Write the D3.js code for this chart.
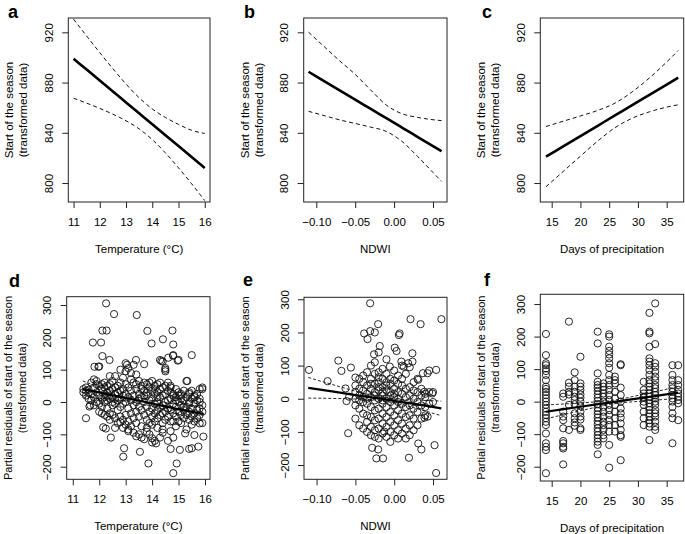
<!DOCTYPE html>
<html><head><meta charset="utf-8">
<script src="https://cdn.jsdelivr.net/npm/d3@7"></script>
<style>body{margin:0;background:#fff}text{font-family:"Liberation Sans",Arial,sans-serif;fill:#000}</style>
</head><body><svg id="c" width="685" height="534"></svg>
<script>
// ---------- DATA ----------
// top panels: fitted line + confidence bands
const aX = [11, 11.5, 12, 12.5, 13, 13.5, 14, 14.5, 15, 15.5, 16];
const aFit = [899, 890.3, 881.6, 872.9, 864.2, 855.5, 846.8, 838.1, 829.4, 820.7, 812];
const aUp = [930.5, 917, 903.8, 891, 878.8, 867.9, 859, 852.2, 846.7, 842, 839.5];
const aLo = [867.5, 863.6, 859.4, 854.8, 849.6, 843.1, 834.6, 824, 812.1, 799.4, 786];

const bX = [-0.11, -0.09, -0.07, -0.05, -0.03, -0.01, 0.01, 0.03, 0.05, 0.061];
const bFit = [888.6, 881.2, 873.8, 866.4, 859, 851.6, 844.2, 836.8, 829.4, 825.3];
const bUp = [920.1, 908.7, 897.3, 886.5, 874, 862.1, 855.2, 852.3, 850.4, 849.7];
const bLo = [857.1, 853.7, 850.3, 847.4, 844.5, 841.1, 833.2, 821.3, 808.4, 801.3];

const cX = [14, 17, 20, 23, 26, 29, 32, 35, 37];
const cFit = [821, 829.2, 837.4, 845.6, 853.8, 862.1, 870.2, 878.4, 883.9];
const cUp = [845, 849.2, 853.4, 857.8, 863.6, 872.6, 883.7, 896.4, 905.5];
const cLo = [797, 809.2, 821.4, 833.4, 844, 851.6, 856.7, 860.4, 862.3];

// bottom panels: partial residuals + fit + bands
const dLineX = [11.38, 12.5, 13.65, 14.8, 15.95];
const dFit = [40, 21, 1.5, -19, -37];
const dUp = [65, 34, 10, -5, -13];
const dLo = [15, 8, -7, -33, -60];
const dCols = [
 [11.4,[40,30]],[11.5,[35,20,45]],[11.6,[28,10,38]],[11.7,[60,25,5]],[11.8,[70,45,15,-10]],
 [11.9,[55,30,0,65]],[12.0,[50,20,-5,-30,110]],[12.1,[40,10,-15,55,-35]],[12.2,[45,25,0,-40,60,15]],
 [12.3,[30,5,-45,50,20,-20]],[12.4,[55,35,10,-35,80,-55]],[12.5,[40,15,-10,-40,65,0]],
 [12.6,[25,-5,-50,45,80,10]],[12.7,[50,30,-25,-65,5]],[12.8,[35,10,-45,60,-15,100]],
 [12.9,[20,-5,-55,40,75,-80]],[13.0,[55,25,0,-40,-70,95,120]],[13.1,[45,15,-20,-60,105,-90]],
 [13.2,[35,5,-35,70,-75,90]],[13.3,[60,20,-10,-50,115,-95]],[13.4,[40,0,-30,-65,55,85]],
 [13.5,[25,-15,-45,65,-100,10]],[13.6,[50,15,-25,-75,40,-110]],[13.7,[35,0,-40,60,-115,20]],
 [13.8,[55,20,-15,-55,-80,30]],[13.9,[45,5,-30,-65,60,-100]],[14.0,[35,10,-20,-45,65,-70,-125]],
 [14.1,[50,25,-5,-35,-60,40,-120]],[14.2,[30,0,-25,-50,55,-80,15]],[14.3,[60,40,15,-15,-40,130,-110]],
 [14.4,[45,20,-10,-35,-65,125,-95]],[14.5,[50,25,0,-30,-55,95,105]],[14.6,[35,5,-20,-45,60,-120]],
 [14.7,[30,10,-25,-60,45,-90,50]],[14.8,[25,-5,-35,20,-60,145,-110]],[14.9,[40,15,-15,-45,5,-75]],
 [15.0,[30,0,-30,-60,130,20]],[15.1,[20,-10,-40,25,-65,10]],[15.2,[35,5,-25,-50,-15]],
 [15.3,[15,-15,-40,65,-85]],[15.4,[25,0,-30,-55,30,-5]],[15.5,[10,-20,35,-45,-70,145]],
 [15.6,[20,-5,-35,15,-60]],[15.7,[5,-25,-50,25]],[15.8,[40,0,-20,-40,10]],[15.9,[40,-30,-65,-10,45]]
];
const dOut = [
 [12.26,305],[12.56,272],[13.42,269],[13.82,220],[14.77,221],[12.12,221],[12.28,221],[11.76,184],
 [12.07,184],[13.98,181],[14.41,194],[14.80,178],[12.39,130],[12.12,142],[11.82,109],[11.97,109],
 [13.05,115],[13.39,130],[13.7,117],[14.35,127],[14.61,137],[14.79,143],[14.97,128],[14.5,100],
 [15.33,65],[11.5,-50],[11.63,-14],[11.66,-10],[12.15,-78],[12.25,-82],[12.44,-110],[12.94,-143],
 [12.91,-169],[13.54,-154],[13.86,-190],[14.15,-128],[14.7,-145],[14.8,-220],[14.93,-190],[15.05,-148],
 [15.4,-145],[15.5,-143],[15.75,-138],[15.94,-107],[15.8,-66],[15.25,-97],[15.6,-102],[14.4,-85],
 [14.0,-112],[13.8,-92],[13.4,-106],[13.1,-85],[12.8,-62],[12.6,-80]
];

const eLineX = [-0.1107, -0.08, -0.05, -0.02, 0.01, 0.04, 0.0607];
const eFit = [33, 22, 11, 1, -10, -21, -29];
const eUp = [64, 43, 23, 7, -2, -5, -7];
const eLo = [2, 1, -1, -5, -18, -37, -51];
const eCols = [
 [-0.050,[0,-20,40,-60,20]],[-0.045,[10,-30,60,-80,30,-5]],[-0.040,[25,-10,-45,70,-90,5,50]],
 [-0.035,[40,15,-15,-50,80,-100,0,-70]],[-0.030,[60,30,5,-25,-55,100,-85,-110,45]],
 [-0.025,[75,45,20,-5,-35,-65,-95,110,10,-115]],[-0.020,[80,50,25,0,-30,-60,-90,-120,35,65]],
 [-0.015,[60,35,10,-15,-45,-75,-105,90,20,-5]],[-0.010,[50,25,0,-25,-55,-85,-115,75,40]],
 [-0.005,[45,20,-10,-40,-70,-100,60,10,-130]],[0.000,[55,30,5,-20,-50,-80,-110,85,15]],
 [0.005,[45,20,-10,-35,-65,-95,70,-120,0]],[0.010,[40,15,-15,-45,-75,-105,60,100]],
 [0.015,[30,5,-25,-55,-90,75,-120]],[0.020,[35,10,-20,-50,-80,95,-110]],
 [0.025,[25,0,-30,-60,50,-95]],[0.030,[20,-10,-40,60,-80]],[0.035,[10,-20,30,-60]],
 [0.040,[15,-25,5,-50]],[0.045,[20,-15,85]],[0.050,[20,-10]]
];
const eOut = [
 [-0.1098,87],[-0.0858,53],[-0.072,115],[-0.068,84],[-0.0627,31],[-0.0614,-7],[-0.058,6],[-0.0593,-104],
 [-0.0558,94],[-0.050,64],[-0.0387,197],[-0.0344,180],[-0.031,288],[-0.031,204],[-0.025,200],[-0.0207,225],
 [-0.0186,159],[-0.02,140],[-0.026,134],[-0.0284,-148],[-0.023,-180],[-0.0207,-153],[-0.0144,-180],
 [-0.013,-99],[0.0007,154],[0.003,144],[0.006,192],[0.007,197],[0.021,240],[0.0234,137],[0.034,225],
 [0.0607,240],[0.019,-178],[0.035,-153],[0.052,-140],[0.054,-224],[0.031,-135],[0.043,-54],[0.039,-57],
 [0.054,87],[0.037,77],[0.043,77],[0.031,57],[0.049,16],[0.039,21],[-0.0057,97],[0.0092,112],[0.0123,97],
 [0.018,107],[0.0235,112],[-0.01,119]
];

const fLineX = [14, 20, 26, 32, 37];
const fFit = [-31, -15.7, -0.5, 14.8, 27.5];
const fUp = [-10, -4, 5, 27, 46];
const fLo = [-53, -28, -6, 3, 10];
const fCols = [
 [14,[208,143,118,112,102,94,82,66,46,39,30,20,10,0,-10,-21,-31,-41,-51,-62,-72,-98,-128,-139,-149,-220]],
 [17,[25,15,-31,-46,-57,-82,-121,-128,-139,-144,-193]],
 [18,[246,58,46,30,22,-10,-87]],
 [19,[90,66,46,30,15,5,-8,-36,-51,-64,-74]],
 [20,[138,56,46,36,22,12,0,-14,-31,-46,-55,-82,-87]],
 [23,[215,179,87,61,51,43,33,22,12,2,-8,-19,-29,-39,-49,-60,-70,-82,-92,-103,-113,-123,-133,-162]],
 [24,[56,46,36,25,15,0,-16,-31,-46,-62,-72,-87,-103,-113]],
 [25,[207,200,169,156,145,133,118,104,82,66,51,36,20,5,-10,-26,-41,-57,-72,-92,-133,-203]],
 [26,[77,66,56,30,10,-10,-31,-51,-72,-92]],
 [27,[115,112,43,20,0,-21,-36,-49,-67,-87,-103,-108,-180]],
 [31,[61,36,25,15,12,0,-10,-31,-51,-72]],
 [32,[273,215,210,169,133,123,112,97,82,66,56,46,36,25,15,5,-5,-16,-26,-36,-46,-57,-67,-77,-118]],
 [33,[302,177,118,107,92,77,66,51,41,30,20,10,0,-10,-26,-36,-46,-62,-77,-87]],
 [36,[112,82,66,51,41,30,20,10,0,-16,-36,-51,-128]],
 [37,[112,66,51,36,25,15,5,-5,-57]]
];

// tick labels
const xTicksA = [11, 12, 13, 14, 15, 16];
const xTicksB = [-0.10, -0.05, 0.00, 0.05];
const xTicksC = [15, 20, 25, 30, 35];
const yTicksTop = [800, 840, 880, 920];
const yTicksBot = [-200, -100, 0, 100, 200, 300];

// ---------- LAYOUT ----------
const svg = d3.select('#c');
svg.append('rect').attr('width',685).attr('height',534).attr('fill','#fff');

function flat(cols){ const r=[]; cols.forEach(c=>c[1].forEach(v=>r.push([c[0],v]))); return r; }

const topTitle = ['Start of the season','(transformed data)'];
const botTitle = ['Partial residuals of start of the season','(transformed data)'];

const panels = [
 {L:'a',x0:68.3,x1:210,y0:18,y1:202,xd:[10.8,16.2],yd:[784.9,931.4],xt:xTicksA,xf:d3.format('d'),yt:yTicksTop,
  lx:aX,fit:aFit,up:aUp,lo:aLo,xl:'Temperature (°C)',yl:topTitle,lp:[8,18],top:true},
 {L:'b',x0:303.7,x1:447,y0:18,y1:202,xd:[-0.1162,0.068],yd:[784.9,931.4],xt:xTicksB,xf:d3.format('.2f'),yt:yTicksTop,
  lx:bX,fit:bFit,up:bUp,lo:bLo,xl:'NDWI',yl:topTitle,lp:[244,18],top:true},
 {L:'c',x0:540.3,x1:683.7,y0:18,y1:202,xd:[13.02,37.96],yd:[784.9,931.4],xt:xTicksC,xf:d3.format('d'),yt:yTicksTop,
  lx:cX,fit:cFit,up:cUp,lo:cLo,xl:'Days of precipitation',yl:topTitle,lp:[482,18],top:true},
 {L:'d',x0:66.7,x1:210,y0:296.7,y1:479.3,xd:[10.77,16.19],yd:[-239,325.7],xt:xTicksA,xf:d3.format('d'),yt:yTicksBot,
  pts:flat(dCols).concat(dOut),lx:dLineX,fit:dFit,up:dUp,lo:dLo,xl:'Temperature (°C)',yl:botTitle,lp:[9,287],top:false},
 {L:'e',x0:304,x1:447,y0:297.3,y1:479.3,xd:[-0.1162,0.068],yd:[-243,306],xt:xTicksB,xf:d3.format('.2f'),yt:yTicksBot,
  pts:flat(eCols).concat(eOut),lx:eLineX,fit:eFit,up:eUp,lo:eLo,xl:'NDWI',yl:botTitle,lp:[243,286],top:false},
 {L:'f',x0:540.3,x1:683.7,y0:294.3,y1:481,xd:[13.02,37.96],yd:[-244,330],xt:xTicksC,xf:d3.format('d'),yt:yTicksBot,
  pts:flat(fCols),lx:fLineX,fit:fFit,up:fUp,lo:fLo,xl:'Days of precipitation',yl:botTitle,lp:[484,286],top:false}
];

panels.forEach(p=>{
  const g = svg.append('g');
  const x = d3.scaleLinear().domain(p.xd).range([p.x0,p.x1]);
  const y = d3.scaleLinear().domain(p.yd).range([p.y1,p.y0]);

  if(p.pts){
    g.append('g').selectAll('circle').data(p.pts).join('circle')
      .attr('cx',d=>x(d[0])).attr('cy',d=>y(d[1])).attr('r',3.6)
      .attr('fill','none').attr('stroke','#111').attr('stroke-width',0.9);
  }
  const mk = arr => d3.line().x((d,i)=>x(p.lx[i])).y(d=>y(d)).curve(d3.curveMonotoneX)(arr);
  g.append('path').attr('d',mk(p.up)).attr('fill','none').attr('stroke','#111')
    .attr('stroke-width',p.top?1:0.9).attr('stroke-dasharray',p.top?'4,3':'3,2');
  g.append('path').attr('d',mk(p.lo)).attr('fill','none').attr('stroke','#111')
    .attr('stroke-width',p.top?1:0.9).attr('stroke-dasharray',p.top?'4,3':'3,2');
  g.append('path').attr('d',mk(p.fit)).attr('fill','none').attr('stroke','#000')
    .attr('stroke-width',p.top?2.6:2.2);

  g.append('rect').attr('x',p.x0).attr('y',p.y0).attr('width',p.x1-p.x0).attr('height',p.y1-p.y0)
    .attr('fill','none').attr('stroke','#222').attr('stroke-width',1);

  const xa = g.append('g').attr('transform',`translate(0,${p.y1})`)
    .call(d3.axisBottom(x).tickValues(p.xt).tickFormat(p.xf).tickSize(6).tickPadding(10).tickSizeOuter(0));
  xa.select('.domain').remove();
  xa.selectAll('line').attr('stroke','#222');
  xa.selectAll('text').attr('font-size',11.5).attr('font-family','"Liberation Sans",Arial,sans-serif').attr('fill','#000');

  const ya = g.append('g').attr('transform',`translate(${p.x0},0)`)
    .call(d3.axisLeft(y).tickValues(p.yt).tickFormat(d3.format('d')).tickSize(6).tickSizeOuter(0));
  ya.select('.domain').remove();
  ya.selectAll('line').attr('stroke','#222');
  ya.selectAll('text').attr('font-size',11.5).attr('font-family','"Liberation Sans",Arial,sans-serif').attr('fill','#000')
    .attr('transform','rotate(-90)').attr('x',0).attr('y',-15.5).attr('dy',0).attr('text-anchor','middle');

  // x title
  g.append('text').attr('x',(p.x0+p.x1)/2).attr('y',p.y1+47).attr('dy','0.35em')
    .attr('text-anchor','middle').attr('font-size',11.5).text(p.xl);
  // y title
  const cy = (p.y0+p.y1)/2;
  [[p.x0-59,p.yl[0]],[p.x0-45,p.yl[1]]].forEach(([tx,t])=>{
    g.append('text').attr('transform',`translate(${tx},${cy}) rotate(-90)`).attr('dy','0.35em')
      .attr('text-anchor','middle').attr('font-size',p.top?11.5:11).text(t);
  });
  // panel letter
  g.append('text').attr('x',p.lp[0]).attr('y',p.lp[1]).attr('font-size',18).attr('font-weight','bold').text(p.L);
});
</script></body></html>
